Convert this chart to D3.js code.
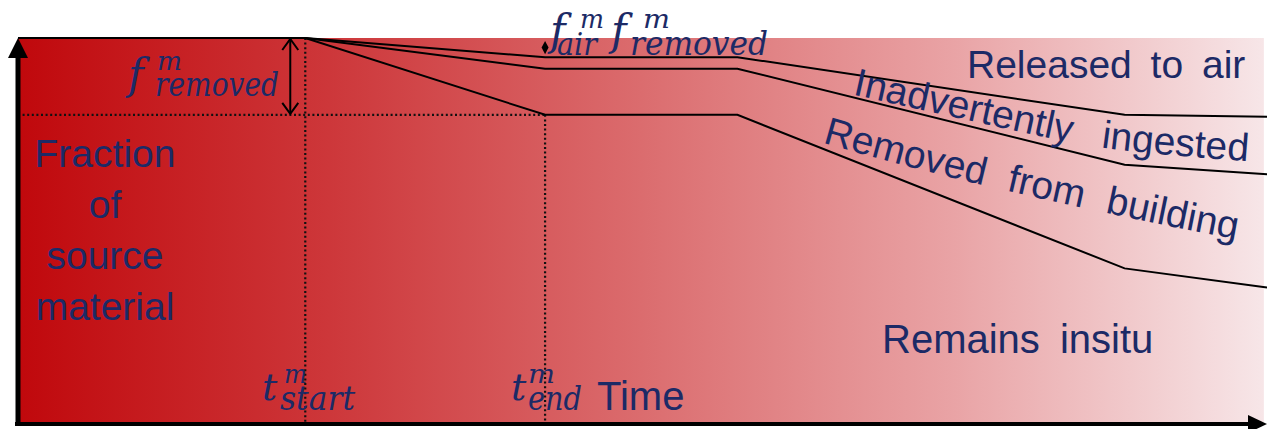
<!DOCTYPE html>
<html>
<head>
<meta charset="utf-8">
<script src="https://cdn.jsdelivr.net/npm/d3@7"></script>
<style>
  html, body { margin: 0; padding: 0; background: #ffffff; }
  svg { display: block; }
</style>
</head>
<body>
<svg id="chart" width="1267" height="429"></svg>
<script>
// ---------- data ----------
const times = [0, 23, 42.2, 57.6, 88.6, 100];          // time (arbitrary units)
const tStart = 23, tEnd = 42.2;
const airFrac      = [1, 1, 0.95, 0.95, 0.80, 0.795];   // upper boundary: released to air
const ingestedFrac = [1, 1, 0.92, 0.92, 0.67, 0.645];   // inadvertently ingested
const removedFrac  = [1, 1, 0.80, 0.80, 0.40, 0.35];    // removed from building
const fRemovedLevel = 0.80;
const yLabelLines = ["Fraction", "of", "source", "material"];
const seriesLabels = ["Released to air", "Inadvertently ingested", "Removed from building", "Remains insitu"];
// guide baselines (time, fraction) for the curved labels
const ingestedLabelGuide = [[66.8, 0.853], [83.0, 0.735], [87.4, 0.707], [100, 0.675]];
const removedLabelGuide  = [[64.4, 0.727], [76.5, 0.617], [97.3, 0.474], [100, 0.465]];

// ---------- setup ----------
const svg = d3.select("#chart");
const x = d3.scaleLinear().domain([0, 100]).range([18, 1267]);
const y = d3.scaleLinear().domain([0, 1]).range([422, 38]);
const navy = "#1c2a66";

const defs = svg.append("defs");
const grad = defs.append("linearGradient").attr("id", "bg").attr("x1", "0%").attr("x2", "100%").attr("y1", "0%").attr("y2", "0%");
[["0%", "rgb(192,8,12)"], ["25%", "rgb(205,55,58)"], ["50%", "rgb(219,108,110)"],
 ["75%", "rgb(233,163,165)"], ["100%", "rgb(247,230,232)"]].forEach(([o, c]) =>
  grad.append("stop").attr("offset", o).attr("stop-color", c));

svg.append("rect")
  .attr("x", x(0)).attr("y", y(1))
  .attr("width", x(99.75) - x(0)).attr("height", y(0) - y(1))
  .attr("fill", "url(#bg)");

// ---------- dotted guides ----------
const dotted = svg.append("g").attr("stroke", "#111").attr("stroke-width", 2.2).attr("stroke-dasharray", "2,2.6").attr("fill", "none");
dotted.append("line").attr("x1", x(tStart)).attr("x2", x(tStart)).attr("y1", y(1)).attr("y2", y(0));
dotted.append("line").attr("x1", x(0)).attr("x2", x(tEnd)).attr("y1", y(fRemovedLevel)).attr("y2", y(fRemovedLevel));
dotted.append("line").attr("x1", x(tEnd)).attr("x2", x(tEnd)).attr("y1", y(fRemovedLevel)).attr("y2", y(0));

// ---------- series lines ----------
const line = d3.line().x((d, i) => x(times[i])).y(d => y(d));
[airFrac, ingestedFrac, removedFrac].forEach(s => {
  svg.append("path").attr("d", line(s)).attr("fill", "none").attr("stroke", "#000").attr("stroke-width", 2);
});

// ---------- double arrows ----------
const ax = x(tStart) - 15;
svg.append("line").attr("x1", ax).attr("x2", ax).attr("y1", y(1) + 1).attr("y2", y(fRemovedLevel) - 1)
  .attr("stroke", "#000").attr("stroke-width", 2);
svg.append("path").attr("fill", "none").attr("stroke", "#000").attr("stroke-width", 2)
  .attr("d", `M${ax - 8},${y(1) + 12}L${ax},${y(1) + 1}L${ax + 8},${y(1) + 12}` +
             `M${ax - 8},${y(fRemovedLevel) - 12}L${ax},${y(fRemovedLevel) - 1}L${ax + 8},${y(fRemovedLevel) - 12}`);
const sx = x(tEnd), sy1 = y(1) + 3, sy2 = y(airFrac[2]) - 3;
svg.append("path").attr("fill", "#000")
  .attr("d", `M${sx},${sy1}L${sx - 3.5},${(sy1 + sy2) / 2}L${sx},${sy2}L${sx + 3.5},${(sy1 + sy2) / 2}Z`);

// ---------- axes ----------
svg.append("line").attr("x1", x(0)).attr("x2", x(0)).attr("y1", 426).attr("y2", 50).attr("stroke", "#000").attr("stroke-width", 5);
svg.append("path").attr("fill", "#000").attr("d", `M${x(0) - 10},58L${x(0)},38L${x(0) + 10},58Z`);
svg.append("line").attr("x1", 15).attr("x2", 1252).attr("y1", 424).attr("y2", 424).attr("stroke", "#000").attr("stroke-width", 4);
svg.append("path").attr("fill", "#000").attr("d", `M1248,415L1267,424L1248,433Z`);

// ---------- text ----------
const sans = "'Liberation Sans', Arial, sans-serif";
const serif = "'DejaVu Serif', 'Liberation Serif', serif";

// y label
const yl = svg.append("text").attr("font-family", sans).attr("font-size", 39).attr("fill", navy).attr("text-anchor", "middle");
yLabelLines.forEach((t, i) => yl.append("tspan").attr("x", 105).attr("y", 167 + i * 51).text(t));

// math labels
function mtext(px, py, size, str, len) {
  const t = svg.append("text").attr("x", px).attr("y", py).attr("font-family", serif).attr("font-style", "italic")
    .attr("font-size", size).attr("fill", navy).text(str);
  if (len) t.attr("textLength", len).attr("lengthAdjust", "spacingAndGlyphs");
  return t;
}
// left f_removed
mtext(128, 89, 42, "f");
mtext(157, 70, 26, "m", 25);
mtext(155, 96, 34, "removed", 124);
// top f_air f_removed
mtext(550, 45, 42, "f");
mtext(580, 28, 26, "m", 24);
mtext(557, 55, 32, "air", 40);
mtext(611, 45, 42, "f");
mtext(643, 28, 26, "m", 27);
mtext(630, 55, 34, "removed", 138);
// t_start, t_end
mtext(262, 400, 38, "t");
mtext(284, 383, 26, "m", 23);
mtext(280, 410, 34, "start", 75);
mtext(511, 400, 38, "t");
mtext(528, 383, 26, "m", 27);
mtext(528, 410, 34, "end", 54);

svg.append("text").attr("x", 597).attr("y", 410).attr("font-family", sans).attr("font-size", 40).attr("fill", navy).text("Time");

// series labels
svg.append("text").attr("x", 967).attr("y", 78).attr("font-family", sans).attr("font-size", 39)
  .attr("word-spacing", 8).attr("fill", navy).text(seriesLabels[0]);
svg.append("text").attr("x", 882).attr("y", 353).attr("font-family", sans).attr("font-size", 40)
  .attr("word-spacing", 9).attr("fill", navy).text(seriesLabels[3]);

const guide = d3.line().x(d => x(d[0])).y(d => y(d[1])).curve(d3.curveBasis);
defs.append("path").attr("id", "ingGuide").attr("d", guide(ingestedLabelGuide));
defs.append("path").attr("id", "remGuide").attr("d", guide(removedLabelGuide));
svg.append("text").attr("font-family", sans).attr("font-size", 39).attr("fill", navy).attr("word-spacing", 20)
  .append("textPath").attr("href", "#ingGuide").text(seriesLabels[1]);
svg.append("text").attr("font-family", sans).attr("font-size", 39).attr("fill", navy).attr("word-spacing", 12)
  .append("textPath").attr("href", "#remGuide").text(seriesLabels[2]);
</script>
</body>
</html>
